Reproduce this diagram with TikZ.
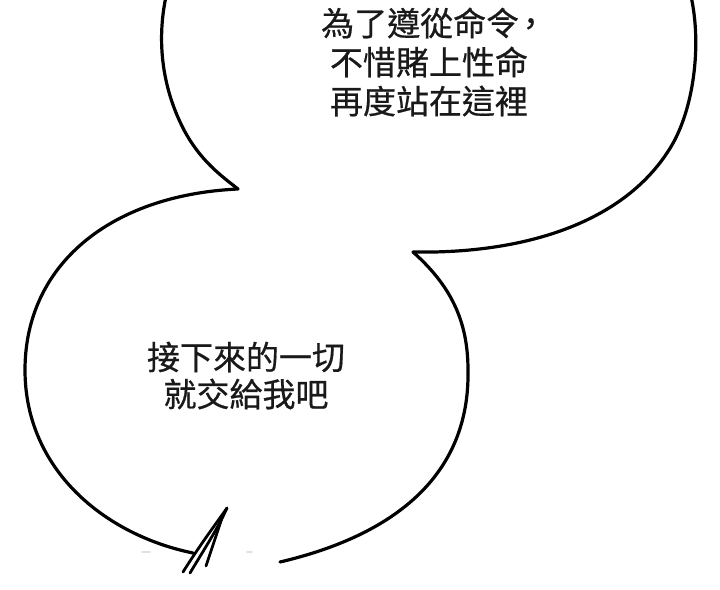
\documentclass[tikz,border=0pt]{standalone}
\usepackage{fontspec}
\newfontfamily\cjk[FakeBold=0.6]{Noto Sans CJK TC}
\begin{document}
\begin{tikzpicture}[x=1pt,y=-1pt,
  outline/.style={line width=3.2pt, black, line cap=round, line join=miter},
  tailline/.style={line width=2.8pt, black, line cap=round},
  txt/.style={inner sep=0pt, font=\cjk\fontsize{33}{38}\selectfont, text=black!90},
  smudge/.style={line width=1.5pt, black!12, line cap=round}]
\useasboundingbox (0,0) rectangle (720,589);
\fill[white] (0,0) rectangle (720,589);
\clip (0,0) rectangle (720,589);
% cusps
\coordinate (cuspL) at (238,189);
\coordinate (cuspR) at (413,252);
\coordinate (tip) at (227,508);
% top bubble, left side
\draw[outline] (167,-8) .. controls (158,30) and (158,80) .. (184,130)
  .. controls (200,160) and (220,175) .. (cuspL);
% top bubble, bottom and right side
\draw[outline] (cuspR) .. controls (520,254) and (625,225) .. (672,145)
  .. controls (695,105) and (702,40) .. (690,-8);
% lower bubble, left side
\draw[outline] (cuspL) .. controls (110,195) and (25,265) .. (25,370)
  .. controls (25,470) and (105,535) .. (193,553);
% lower bubble, right side
\draw[outline] (cuspR) .. controls (450,285) and (468,320) .. (468,370)
  .. controls (470,475) and (395,535) .. (280,562);
% tail
\draw[tailline] (183,572) .. controls (200,545) and (215,525) .. (tip);
\draw[tailline] (190,573) .. controls (205,548) and (218,528) .. (tip);
\draw[tailline] (206,566) .. controls (212,548) and (218,530) .. (222,518);
% faint smudges
\draw[smudge] (142,552) -- (150,552);
\draw[smudge] (247,552) -- (252,552);
% texts
\node[txt, anchor=west] (t1) at (321,23) {為了遵從命令\kern-5pt，};
\node[txt] (t2) at (429,62) {不惜賭上性命};
\node[txt] (t3) at (429,101) {再度站在這裡};
\node[txt] (b1) at (246,357) {接下來的一切};
\node[txt] (b2) at (246,394) {就交給我吧};
\end{tikzpicture}
\end{document}
